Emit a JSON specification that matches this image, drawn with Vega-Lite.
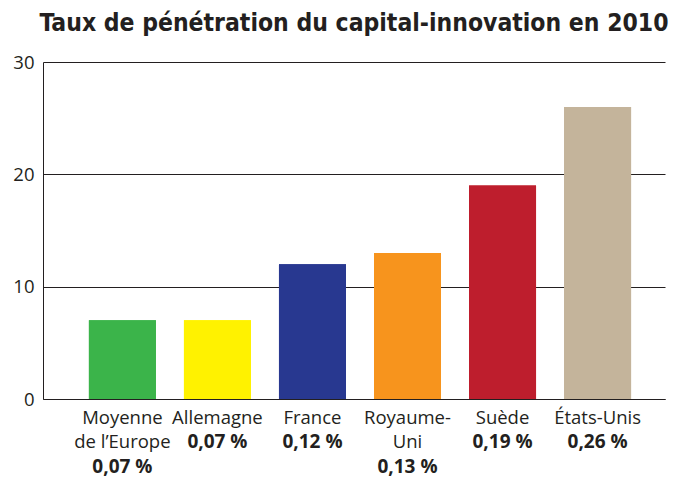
{
  "$schema": "https://vega.github.io/schema/vega-lite/v6.json",
  "width": 622,
  "height": 337,
  "autosize": {"type": "none"},
  "padding": {"left": 43, "top": 62, "right": 10, "bottom": 80},
  "background": "white",
  "title": {
    "text": "Taux de pénétration du capital-innovation en 2010",
    "font": "DejaVu Sans Condensed",
    "fontSize": 24.5,
    "fontWeight": "bold",
    "color": "#231f20",
    "anchor": "middle",
    "offset": 17
  },
  "config": {"view": {"stroke": null}},
  "data": {
    "values": [
      {"pays": "Moyenne de l’Europe", "taux": "0,07 %", "valeur": 7},
      {"pays": "Allemagne", "taux": "0,07 %", "valeur": 7},
      {"pays": "France", "taux": "0,12 %", "valeur": 12},
      {"pays": "Royaume-Uni", "taux": "0,13 %", "valeur": 13},
      {"pays": "Suède", "taux": "0,19 %", "valeur": 19},
      {"pays": "États-Unis", "taux": "0,26 %", "valeur": 26}
    ]
  },
  "encoding": {
    "y": {
      "field": "valeur",
      "type": "quantitative",
      "scale": {"domain": [0, 30]},
      "axis": {
        "title": null,
        "values": [0, 10, 20, 30],
        "grid": true,
        "gridColor": "#231f20",
        "gridWidth": 1,
        "gridOpacity": 1,
        "domain": true,
        "domainColor": "#231f20",
        "ticks": false,
        "labelFont": "Open Sans",
        "labelFontSize": 18.5,
        "labelColor": "#231f20",
        "labelPadding": 9
      }
    },
    "color": {
      "field": "pays",
      "type": "nominal",
      "scale": {
        "domain": ["Moyenne de l’Europe", "Allemagne", "France", "Royaume-Uni", "Suède", "États-Unis"],
        "range": ["#3bb44a", "#fff200", "#283890", "#f7941d", "#be1e2d", "#c4b49b"]
      },
      "legend": null
    }
  },
  "layer": [
    {
      "mark": {"type": "bar"},
      "encoding": {
        "x": {
          "field": "pays",
          "type": "nominal",
          "sort": null,
          "scale": {"paddingInner": 0.295, "paddingOuter": 0.42, "align": 0.575},
          "axis": {
            "title": null,
            "orient": "bottom",
            "labelAngle": 0,
            "domain": true,
            "domainColor": "#231f20",
            "ticks": false,
            "grid": false,
            "labelFont": "Open Sans",
            "labelFontSize": 18.5,
            "labelColor": "#231f20",
            "labelPadding": 9,
            "labelLineHeight": 24.5,
            "labelBaseline": "top",
            "labelExpr": "datum.label == 'Moyenne de l’Europe' ? ['Moyenne', 'de l’Europe'] : datum.label == 'Royaume-Uni' ? ['Royaume-', 'Uni'] : datum.label"
          }
        }
      }
    },
    {
      "mark": {"type": "bar"},
      "encoding": {
        "x": {
          "field": "pays",
          "type": "nominal",
          "sort": null,
          "scale": {"paddingInner": 0.295, "paddingOuter": 0.42, "align": 0.575},
          "axis": {
            "title": null,
            "orient": "bottom",
            "labelAngle": 0,
            "domain": false,
            "ticks": false,
            "grid": false,
            "labelFont": "Open Sans",
            "labelFontSize": 19,
            "labelFontWeight": "bold",
            "labelColor": "#231f20",
            "labelPadding": 9,
            "labelLineHeight": 24.5,
            "labelBaseline": "top",
            "labelExpr": "datum.label == 'Moyenne de l’Europe' ? ['\u200b', '\u200b', '0,07 %'] : datum.label == 'Allemagne' ? ['\u200b', '0,07 %'] : datum.label == 'France' ? ['\u200b', '0,12 %'] : datum.label == 'Royaume-Uni' ? ['\u200b', '\u200b', '0,13 %'] : datum.label == 'Suède' ? ['\u200b', '0,19 %'] : ['\u200b', '0,26 %']"
          }
        }
      }
    }
  ],
  "resolve": {"axis": {"x": "independent"}}
}
